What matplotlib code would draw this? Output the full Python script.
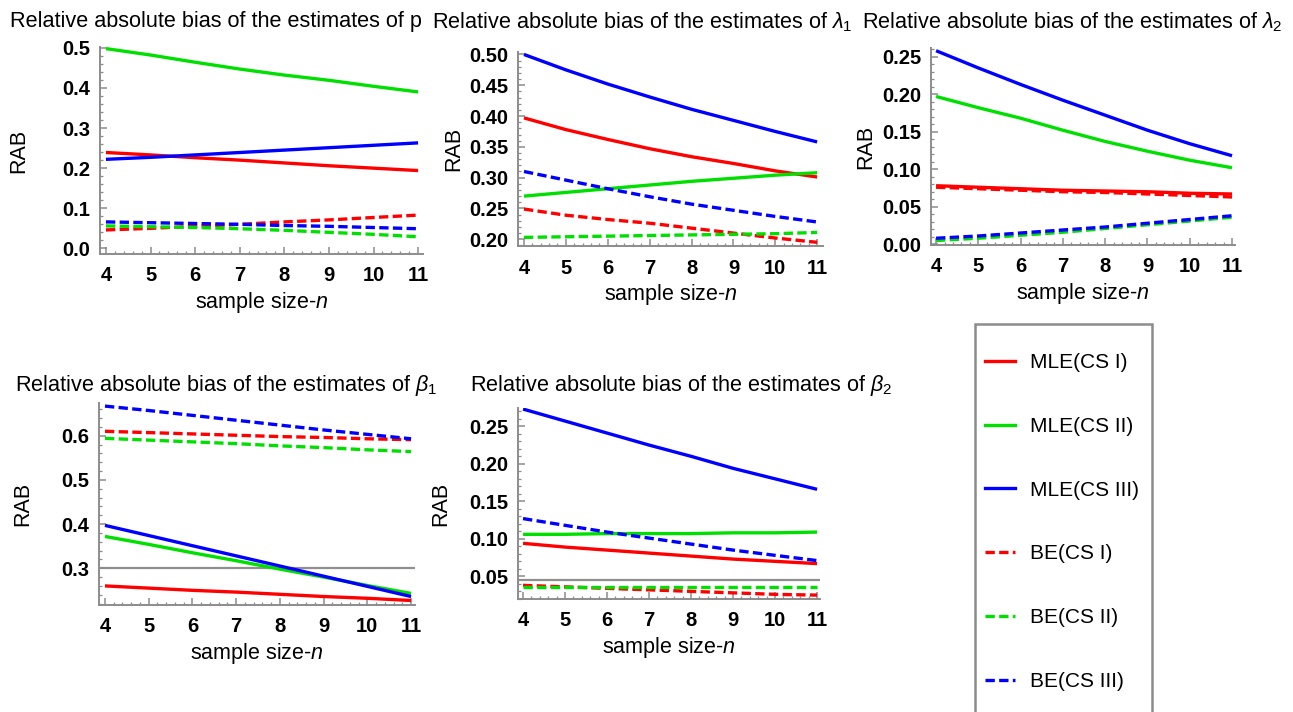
"""Relative absolute bias of the estimates versus sample size."""

import matplotlib
matplotlib.use("Agg")
import matplotlib.pyplot as plt
from matplotlib.lines import Line2D
from matplotlib.patches import Rectangle
from matplotlib.ticker import AutoMinorLocator, FormatStrFormatter, MultipleLocator

plt.rcParams["font.family"] = ["Liberation Sans", "DejaVu Sans"]
plt.rcParams["mathtext.fontset"] = "custom"
plt.rcParams["mathtext.rm"] = "Liberation Sans"
plt.rcParams["mathtext.it"] = "Liberation Sans:italic"
plt.rcParams["mathtext.bf"] = "Liberation Sans:bold"

W, H = 1293, 712

n = [4, 5, 6, 7, 8, 9, 10, 11]
series_names = ["MLE(CS I)", "MLE(CS II)", "MLE(CS III)", "BE(CS I)", "BE(CS II)", "BE(CS III)"]

# RAB of p
p_mle1 = [0.239, 0.233, 0.226, 0.220, 0.213, 0.206, 0.200, 0.194]
p_mle2 = [0.498, 0.482, 0.464, 0.447, 0.432, 0.419, 0.404, 0.390]
p_mle3 = [0.222, 0.227, 0.233, 0.239, 0.245, 0.251, 0.257, 0.263]
p_be1 = [0.046, 0.050, 0.055, 0.060, 0.066, 0.071, 0.077, 0.083]
p_be2 = [0.056, 0.054, 0.052, 0.049, 0.045, 0.040, 0.035, 0.029]
p_be3 = [0.066, 0.064, 0.062, 0.060, 0.057, 0.055, 0.052, 0.049]

# RAB of lambda_1
l1_mle1 = [0.397, 0.378, 0.362, 0.347, 0.334, 0.323, 0.311, 0.301]
l1_mle2 = [0.270, 0.276, 0.282, 0.288, 0.294, 0.299, 0.304, 0.308]
l1_mle3 = [0.500, 0.475, 0.452, 0.431, 0.411, 0.393, 0.375, 0.358]
l1_be1 = [0.249, 0.239, 0.232, 0.226, 0.218, 0.210, 0.202, 0.195]
l1_be2 = [0.203, 0.204, 0.205, 0.206, 0.207, 0.208, 0.209, 0.211]
l1_be3 = [0.310, 0.296, 0.282, 0.269, 0.257, 0.247, 0.237, 0.228]

# RAB of lambda_2
l2_mle1 = [0.078, 0.076, 0.074, 0.072, 0.071, 0.070, 0.068, 0.067]
l2_mle2 = [0.197, 0.182, 0.168, 0.152, 0.137, 0.124, 0.112, 0.102]
l2_mle3 = [0.258, 0.235, 0.213, 0.192, 0.172, 0.152, 0.134, 0.118]
l2_be1 = [0.076, 0.074, 0.072, 0.070, 0.069, 0.067, 0.065, 0.063]
l2_be2 = [0.005, 0.008, 0.012, 0.016, 0.021, 0.026, 0.031, 0.036]
l2_be3 = [0.008, 0.011, 0.015, 0.019, 0.023, 0.028, 0.033, 0.038]

# RAB of beta_1
b1_mle1 = [0.260, 0.255, 0.250, 0.246, 0.241, 0.236, 0.232, 0.227]
b1_mle2 = [0.372, 0.354, 0.335, 0.317, 0.298, 0.280, 0.261, 0.243]
b1_mle3 = [0.397, 0.374, 0.351, 0.328, 0.305, 0.282, 0.259, 0.236]
b1_be1 = [0.610, 0.607, 0.604, 0.601, 0.598, 0.596, 0.593, 0.591]
b1_be2 = [0.594, 0.590, 0.586, 0.582, 0.577, 0.573, 0.568, 0.564]
b1_be3 = [0.667, 0.657, 0.646, 0.635, 0.624, 0.613, 0.603, 0.593]
b1_ref = 0.3

# RAB of beta_2
b2_mle1 = [0.094, 0.089, 0.085, 0.081, 0.077, 0.073, 0.070, 0.067]
b2_mle2 = [0.106, 0.106, 0.107, 0.107, 0.107, 0.108, 0.108, 0.109]
b2_mle3 = [0.273, 0.257, 0.241, 0.225, 0.210, 0.194, 0.180, 0.166]
b2_be1 = [0.038, 0.036, 0.034, 0.032, 0.030, 0.028, 0.026, 0.025]
b2_be2 = [0.036, 0.036, 0.036, 0.036, 0.036, 0.036, 0.036, 0.036]
b2_be3 = [0.127, 0.118, 0.109, 0.101, 0.093, 0.085, 0.078, 0.071]
b2_ref = 0.045

COLORS = ["#ff0000", "#00e000", "#0000ff"] * 2
STYLES = ["solid"] * 3 + ["dashed"] * 3
DASH = (2.8, 1.3)
LW = 2.4
SPINE = "#8c8c8c"


def rect(left, top, right, bottom):
    return [left / W, 1 - bottom / H, (right - left) / W, (bottom - top) / H]


def draw_panel(fig, box, data, xlim, ylim, ystep, yfmt, ref=None, ylab_px=None):
    ax = fig.add_axes(rect(*box))
    for values, color, style in zip(data, COLORS, STYLES):
        line, = ax.plot(n, values, color=color, lw=LW, solid_capstyle="butt")
        if style == "dashed":
            line.set_dashes(DASH)
    if ref is not None:
        ax.axhline(ref, color="#8f8f8f", lw=1.6, zorder=0)
    ax.set_xlim(*xlim)
    ax.set_ylim(*ylim)
    ax.xaxis.set_major_locator(MultipleLocator(1))
    ax.xaxis.set_minor_locator(AutoMinorLocator(5))
    ax.yaxis.set_major_locator(MultipleLocator(ystep))
    ax.yaxis.set_minor_locator(AutoMinorLocator(5))
    ax.yaxis.set_major_formatter(FormatStrFormatter(yfmt))
    for side in ["top", "right"]:
        ax.spines[side].set_visible(False)
    for side in ["left", "bottom"]:
        ax.spines[side].set_color(SPINE)
        ax.spines[side].set_linewidth(1.4)
    ax.tick_params(which="both", direction="in", color=SPINE, labelsize=14.5)
    ax.tick_params(which="major", length=5, width=1.1, pad=7)
    ax.tick_params(axis="x", which="major", pad=9)
    ax.tick_params(which="minor", length=2.5, width=0.9)
    for lab in ax.get_xticklabels() + ax.get_yticklabels():
        lab.set_fontweight("bold")
    ax.set_xlabel("sample size-$n$", fontsize=15.5, labelpad=3)
    ax.set_ylabel("RAB", fontsize=15.5)
    if ylab_px is not None:
        left, top, right, bottom = box
        ax.yaxis.set_label_coords((ylab_px - left) / (right - left), 0.5)
    return ax


def run():
    fig = plt.figure(figsize=(W / 100, H / 100), dpi=100)

    draw_panel(fig, (100, 47, 423, 254),
               [p_mle1, p_mle2, p_mle3, p_be1, p_be2, p_be3],
               (3.866, 11.11), (-0.014, 0.502), 0.1, "%.1f", ylab_px=29)
    draw_panel(fig, (518, 52, 823, 246),
               [l1_mle1, l1_mle2, l1_mle3, l1_be1, l1_be2, l1_be3],
               (3.857, 11.14), (0.189, 0.504), 0.05, "%.2f", ylab_px=464)
    draw_panel(fig, (931, 48, 1235, 245),
               [l2_mle1, l2_mle2, l2_mle3, l2_be1, l2_be2, l2_be3],
               (3.88, 11.07), (-0.001, 0.2616), 0.05, "%.2f", ylab_px=876)
    draw_panel(fig, (99, 403, 415, 605),
               [b1_mle1, b1_mle2, b1_mle3, b1_be1, b1_be2, b1_be3],
               (3.863, 11.09), (0.2168, 0.674), 0.1, "%.1f", ref=b1_ref, ylab_px=33)
    draw_panel(fig, (518, 408, 820, 599),
               [b2_mle1, b2_mle2, b2_mle3, b2_be1, b2_be2, b2_be3],
               (3.88, 11.07), (0.0198, 0.2744), 0.05, "%.2f", ref=b2_ref, ylab_px=451)

    titles = [
        (10, 22, "Relative absolute bias of the estimates of p"),
        (432, 22, r"Relative absolute bias of the estimates of $\lambda_1$"),
        (862, 22, r"Relative absolute bias of the estimates of $\lambda_2$"),
        (15, 385, r"Relative absolute bias of the estimates of $\beta_1$"),
        (470, 385, r"Relative absolute bias of the estimates of $\beta_2$"),
    ]
    for x, y, text in titles:
        fig.text(x / W, 1 - y / H, text, fontsize=15.6, ha="left", va="center")

    # legend box runs off the bottom edge, as in the original
    fig.patches.append(Rectangle((975 / W, -6 / H), 177 / W, (712 + 6 - 324) / H,
                                 transform=fig.transFigure, fill=False,
                                 edgecolor=SPINE, lw=1.8))
    handles = []
    for color, style in zip(COLORS, STYLES):
        h = Line2D([], [], color=color, lw=LW)
        if style == "dashed":
            h.set_dashes(DASH)
        handles.append(h)
    fig.legend(handles, series_names, loc="upper left",
               bbox_to_anchor=(985 / W, 1 - 353 / H), borderaxespad=0,
               borderpad=0, handlelength=1.45, handletextpad=0.72,
               labelspacing=2.15, fontsize=15, frameon=False)

    fig.savefig("out.png", dpi=100)
    plt.close(fig)


if __name__ == "__main__":
    run()
